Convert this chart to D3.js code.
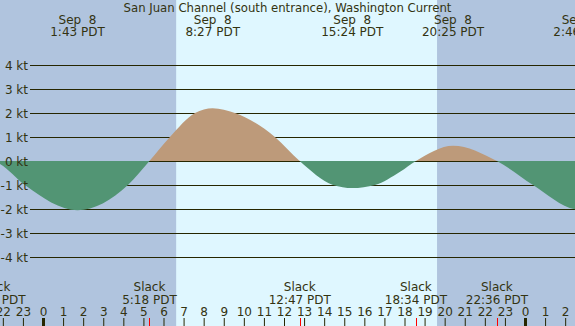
<!DOCTYPE html>
<html>
<head>
<meta charset="utf-8">
<script src="https://cdn.jsdelivr.net/npm/d3@7"></script>
<style>
body{margin:0;padding:0;background:#b0c4de;}
svg{display:block;}
text{font-family:"DejaVu Sans",sans-serif;font-size:12px;fill:#333311;white-space:pre;}
</style>
</head>
<body>
<svg id="svg" width="575" height="326"></svg>
<script>
var W=575,H=326;

// hours since midnight Sep 8 (negative = Sep 7, >24 = Sep 9)
var sampleHours=[-2.42,-2.14,-0.90,1.72,4.23,5.30,6.32,7.57,8.45,9.56,11.55,12.78,14.44,15.40,16.53,17.78,18.57,20.42,22.60,24.40,26.50,26.77];
var sampleKnots=[0,-0.12,-1.0,-2.05,-1.0,0,1.0,2.0,2.2,2.0,1.0,0,-1.0,-1.13,-1.0,-0.45,0,0.64,0,-1.0,-2.01,-2.03];

// max / min current events shown on top
var peakHours=[1.717,8.45,15.4,20.417,26.767];
var peakDates=["Sep  8","Sep  8","Sep  8","Sep  8","Sep  9"];
var peakLabels=["1:43 PDT","8:27 PDT","15:24 PDT","20:25 PDT","2:46 PDT"];

// slack water events shown on bottom
var slackHours=[-2.42,5.3,12.783,18.567,22.6];
var slackLabels=["21:35 PDT","5:18 PDT","12:47 PDT","18:34 PDT","22:36 PDT"];

// daylight
var sunrise=6.63, sunset=19.62;

var knotTicks=[-4,-3,-2,-1,0,1,2,3,4];
var hourTicks=d3.range(-2,27);

var svg=d3.select("#svg");

var x=d3.scaleLinear().domain([0,24]).range([43,525]);
var y=d3.scaleLinear().domain([-4,4]).range([257,65]);

// background night / day
svg.append("rect")
    .attr("x",0).attr("y",0).attr("width",W).attr("height",H)
    .attr("fill","#b0c4de");
svg.append("rect")
    .attr("x",x(sunrise)).attr("y",0)
    .attr("width",x(sunset)-x(sunrise)).attr("height",H)
    .attr("fill","#dff7ff");

// grid lines
svg.selectAll(".grid")
    .data(knotTicks)
  .enter().append("line")
    .attr("class","grid")
    .attr("x1",30).attr("x2",W)
    .attr("y1",d=>Math.round(y(d))+0.5)
    .attr("y2",d=>Math.round(y(d))+0.5)
    .attr("stroke","#262600")
    .attr("stroke-width",1);

// current curve, flood above, ebb below
var pts=sampleHours.map((h,i)=>[h,sampleKnots[i]]);
var zeroY=Math.round(y(0));
var area=d3.area()
    .x(d=>x(d[0]))
    .y0(zeroY)
    .y1(d=>y(d[1]))
    .curve(d3.curveMonotoneX);

var defs=svg.append("defs");
defs.append("clipPath").attr("id","above")
  .append("rect").attr("x",0).attr("y",0).attr("width",W).attr("height",zeroY);
defs.append("clipPath").attr("id","below")
  .append("rect").attr("x",0).attr("y",zeroY).attr("width",W).attr("height",H-zeroY);

svg.append("path")
    .datum(pts)
    .attr("d",area)
    .attr("fill","#bd9a7a")
    .attr("clip-path","url(#above)");
svg.append("path")
    .datum(pts)
    .attr("d",area)
    .attr("fill","#529574")
    .attr("clip-path","url(#below)");

// knot labels on top of the fill
svg.selectAll(".klab")
    .data(knotTicks)
  .enter().append("text")
    .attr("class","klab")
    .attr("x",28)
    .attr("y",d=>Math.round(y(d))+5)
    .attr("text-anchor","end")
    .text(d=>d+" kt");

// title
svg.append("text")
    .attr("x",W/2).attr("y",12)
    .attr("text-anchor","middle")
    .style("font-size","11.7px")
    .text("San Juan Channel (south entrance), Washington Current");

// peak labels
var peaks=svg.selectAll(".peak")
    .data(peakHours)
  .enter().append("g")
    .attr("class","peak")
    .attr("transform",d=>"translate("+x(d)+",0)");
peaks.append("text").attr("y",24).attr("text-anchor","middle").text((d,i)=>peakDates[i]);
peaks.append("text").attr("y",36).attr("text-anchor","middle").text((d,i)=>peakLabels[i]);

// slack labels
var slacks=svg.selectAll(".slack")
    .data(slackHours)
  .enter().append("g")
    .attr("class","slack")
    .attr("transform",d=>"translate("+x(d)+",0)");
slacks.append("text").attr("y",291).attr("text-anchor","middle").text("Slack");
slacks.append("text").attr("y",304).attr("text-anchor","middle").text((d,i)=>slackLabels[i]);

// hour axis
var axis=svg.append("g")
    .attr("transform","translate(0,"+H+")")
    .call(d3.axisTop(x)
        .tickValues(hourTicks)
        .tickSize(8)
        .tickPadding(2)
        .tickFormat(d=>((d%24)+24)%24));
axis.select(".domain").remove();
axis.selectAll("text").attr("fill",null).style("font-size","12px").style("font-family","DejaVu Sans");
axis.selectAll(".tick line").attr("stroke","#262600")
    .attr("stroke-width",d=>((d%24)+24)%24===0?3:1);

// slack tick marks
svg.selectAll(".stick")
    .data(slackHours)
  .enter().append("line")
    .attr("class","stick")
    .attr("x1",d=>Math.round(x(d))+0.5).attr("x2",d=>Math.round(x(d))+0.5)
    .attr("y1",H-8).attr("y2",H)
    .attr("stroke","#ff0000");
</script>
</body>
</html>
